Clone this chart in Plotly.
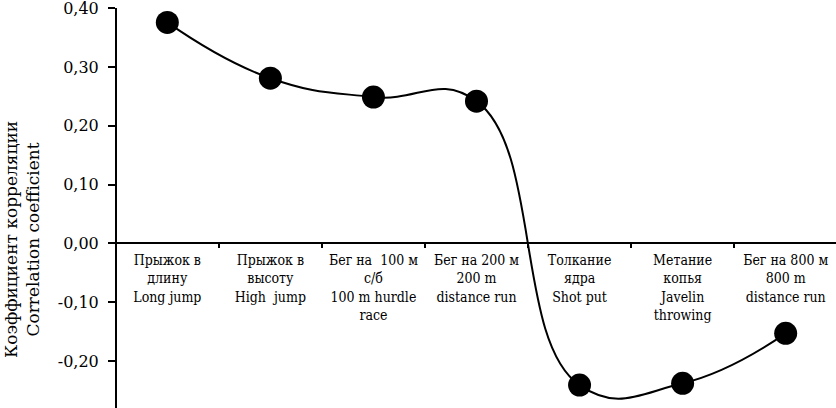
import plotly.graph_objects as go

categories = ["long_jump", "high_jump", "hurdle_100", "run_200", "shot_put", "javelin", "run_800"]
tick_labels = [
    "Прыжок в<br>длину<br>Long jump",
    "Прыжок в<br>высоту<br>High  jump",
    "Бег на  100 м<br>с/б<br>100 m hurdle<br>race",
    "Бег на 200 м<br>200 m<br>distance run",
    "Толкание<br>ядра<br>Shot put",
    "Метание<br>копья<br>Javelin<br>throwing",
    "Бег на 800 м<br>800 m<br>distance run",
]
corr = [0.376, 0.281, 0.249, 0.242, -0.241, -0.238, -0.153]
y_ticks = [-0.2, -0.1, 0.0, 0.1, 0.2, 0.3, 0.4]
y_tick_text = ["-0,20", "-0,10", "0,00", "0,10", "0,20", "0,30", "0,40"]
y_range = [-0.28, 0.4005]

fig = go.Figure()
fig.add_trace(go.Scatter(
    x=categories,
    y=corr,
    mode="lines+markers",
    line=dict(color="black", width=2, shape="spline", smoothing=1.3),
    marker=dict(color="black", size=23),
    showlegend=False,
    hoverinfo="skip",
))

# x axis sits on y = 0
zero_pos = (0 - y_range[0]) / (y_range[1] - y_range[0])

fig.update_layout(
    width=836,
    height=408,
    margin=dict(l=117, r=0, t=8, b=0),
    paper_bgcolor="white",
    plot_bgcolor="white",
    font=dict(family="DejaVu Serif", color="black"),
    xaxis=dict(
        type="category",
        categoryorder="array",
        categoryarray=categories,
        tickvals=categories,
        ticktext=tick_labels,
        tickson="boundaries",
        anchor="free",
        position=zero_pos,
        automargin=False,
        showline=True,
        linecolor="black",
        linewidth=2,
        ticks="outside",
        ticklen=4,
        tickwidth=2,
        tickcolor="black",
        showgrid=False,
        zeroline=False,
        ticklabeloverflow="allow",
        ticklabelstandoff=4,
        tickfont=dict(size=14, family="DejaVu Serif Condensed", color="black"),
        tickangle=0,
    ),
    yaxis=dict(
        range=y_range,
        tickvals=y_ticks,
        ticktext=y_tick_text,
        automargin=False,
        showline=True,
        linecolor="black",
        linewidth=2,
        ticks="outside",
        ticklen=7,
        tickwidth=2,
        tickcolor="black",
        showgrid=False,
        zeroline=False,
        ticklabeloverflow="allow",
        ticklabelstandoff=6,
        tickfont=dict(size=16, family="DejaVu Serif", color="black"),
    ),
    annotations=[dict(
        text="Коэффициент корреляции<br>Correlation coefficient",
        xref="paper", yref="paper",
        x=(22 - 117) / 719, y=(408 - 240) / 400,
        xanchor="center", yanchor="middle",
        textangle=-90,
        showarrow=False,
        font=dict(size=17, family="DejaVu Serif", color="black"),
    )],
)

# the page has a default 8px body margin; drop it so the figure fills the window
fig.write_html(
    "out.html",
    config={"displayModeBar": False},
    post_script="document.body.style.margin='0';",
)
